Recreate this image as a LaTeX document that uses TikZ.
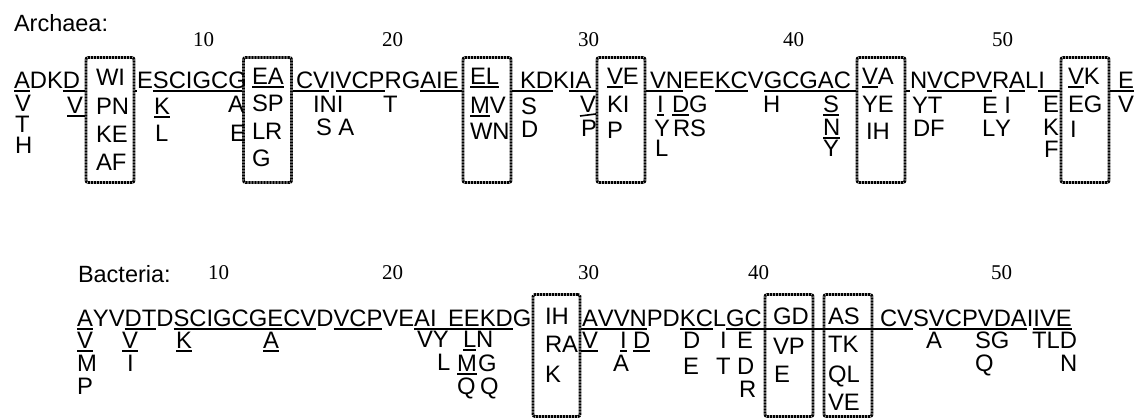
\documentclass[tikz,border=0pt]{standalone}
\usepackage{fontspec}
\newfontfamily\lettfont{Liberation Sans}[Kerning=Off]
\newfontfamily\numfont{Liberation Serif}
\newcommand\lett{\lettfont\fontsize{23.8pt}{24pt}\selectfont}
\newcommand\labsz{\lettfont\fontsize{23.5pt}{24pt}\selectfont}
\newcommand\numsz{\numfont\fontsize{21pt}{21pt}\selectfont}
\begin{document}
\begin{tikzpicture}[x=1pt,y=-1pt,
 t/.style={font=\lett, inner sep=0pt, outer sep=0pt, anchor=base west},
 lab/.style={font=\labsz, inner sep=0pt, outer sep=0pt, anchor=base west},
 nm/.style={font=\numsz, inner sep=0pt, outer sep=0pt, anchor=base west},
 ul/.style={draw, line width=1.6pt},
 u/.style={append after command={([yshift=-2pt]\tikzlastnode.base west) edge[ul] ([yshift=-2pt]\tikzlastnode.base east)}},
 box/.style={draw, line width=2.8pt, dash pattern=on 2.2pt off 0.8pt, rounded corners=2pt, inner sep=0pt, minimum width=48pt}]
\useasboundingbox (0,0) rectangle (1135,419);

% ================= ARCHAEA =================
\node[lab] (arch) at (14,32) {Archaea:};
\node[nm] (an10) at (193,47) {10};
\node[nm] (an20) at (382,47) {20};
\node[nm] (an30) at (578,47) {30};
\node[nm] (an40) at (783,47) {40};
\node[nm] (an50) at (992,47) {50};

% boxes
\node[box, minimum height=125pt] (bWI) at (110,120) {};
\node[box, minimum height=125pt] (bEA) at (267.5,120) {};
\node[box, minimum height=125pt] (bEL) at (487,120) {};
\node[box, minimum height=125pt] (bVE) at (621,120) {};
\node[box, minimum height=125pt] (bVA) at (881,120) {};
\node[box, minimum height=125pt] (bVK) at (1085,120) {};

% segment 1
\node[t,u] (a1) at (14,89) {A};
\node[t] (a2) at (a1.base east) {DK};
\node[t] (a3) at (a2.base east) {D};
\draw[ul] ([yshift=-2pt]a3.base west) -- ([yshift=-2pt]a3.base west -| bWI.west);
\node[t] (a1v) at (15,112) {V};
\node[t] (a1t) at (15,133) {T};
\node[t] (a1h) at (15,154) {H};
\node[t] (a3v) at (67,114) {V};
\draw[ul] ([yshift=-2pt]a3v.base west) -- ([yshift=-2pt]a3v.base west -| bWI.west);

% box WI
\node[t] (wi1) at (96,86) {WI};
\node[t] (wi2) at (96,115) {PN};
\node[t] (wi3) at (96,143) {KE};
\node[t] (wi4) at (96,171) {AF};

% segment 2
\node[t] (e1) at (137,89) {E};
\node[t] (e2) at (e1.base east) {SCIGCG};
\draw[ul] ([yshift=-2pt]e1.base west -| bWI.east) -- ([yshift=-2pt]e1.base west);
\draw[ul] ([yshift=-2pt]e2.base west) -- ([yshift=-2pt]e2.base west -| bEA.west);
\node[t,u] (e2k) at (154,115) {K};
\node[t] (e2l) at (155,142) {L};
\node[t] (e2a) at (228,113) {A};
\node[t] (e2e) at (230,142) {E};

% box EA
\node[t,u] (ea1) at (252,85) {EA};
\node[t] (ea2) at (252,112) {SP};
\node[t] (ea3) at (252,140) {LR};
\node[t] (ea4) at (252,167) {G};

% segment 3
\node[t] (f1) at (296,89) {CV};
\node[t] (f2) at (f1.base east) {I};
\node[t,u] (f3) at (f2.base east) {VCP};
\node[t] (f4) at (f3.base east) {RG};
\node[t] (f5) at (f4.base east) {AIE};
\draw[ul] ([yshift=-2pt]f1.base west -| bEA.east) -- ([yshift=-2pt]f1.base east);
\draw[ul] ([yshift=-2pt]f5.base west) -- ([yshift=-2pt]f5.base west -| bEL.west);
\node[t] (f1i) at (313,113) {INI};
\node[t] (f1s) at (316,136) {S A};
\node[t] (f4t) at (383,113) {T};

% box EL
\node[t,u] (el1) at (470,85) {EL};
\node[t,u] (el2) at (470,114) {M};
\node[t] (el2b) at (el2.base east) {V};
\node[t] (el3) at (470,140) {WN};

% segment 4
\node[t] (g1) at (520,89) {KD};
\node[t] (g2) at (g1.base east) {K};
\node[t] (g3) at (g2.base east) {IA};
\draw[ul] ([yshift=-2pt]g1.base west -| bEL.east) -- ([yshift=-2pt]g1.base east);
\draw[ul] ([yshift=-2pt]g3.base west) -- ([yshift=-2pt]g3.base west -| bVE.west);
\node[t] (g1s) at (521,115) {S};
\node[t] (g1d) at (521,138) {D};
\node[t] (g3v) at (580,113) {V};
\draw[ul] ([yshift=-3pt]g3v.base west) -- ([yshift=-1pt]g3v.base east);
\node[t] (g3p) at (581,137) {P};

% box VE
\node[t,u] (ve1) at (607,85) {V};
\node[t] (ve1b) at (ve1.base east) {E};
\node[t] (ve2) at (607,113) {KI};
\node[t] (ve3) at (607,139) {P};

% segment 5
\node[t] (h1) at (650,89) {VN};
\node[t] (h2) at (h1.base east) {EE};
\node[t,u] (h3) at (h2.base east) {KC};
\node[t] (h4) at (h3.base east) {V};
\node[t] (h5) at (h4.base east) {GCGAC};
\draw[ul] ([yshift=-2pt]h1.base west -| bVE.east) -- ([yshift=-2pt]h1.base east);
\draw[ul] ([yshift=-2pt]h5.base west) -- ([yshift=-2pt]h5.base west -| bVA.west);
\node[t,u] (h1i) at (657,113) {I};
\node[t] (h1y) at (654,137) {Y};
\node[t] (h1l) at (655,157) {L};
\node[t,u] (h1d) at (672,113) {D};
\node[t] (h1g) at (h1d.base east) {G};
\node[t] (h1r) at (673,137) {RS};
\node[t] (h5h) at (763,113) {H};
\node[t,u] (h5s) at (823,113) {S};
\node[t,u] (h5n) at (823,136) {N};
\node[t] (h5y) at (823,157) {Y};

% box VA
\node[t,u] (va1) at (862,85) {V};
\node[t] (va1b) at (va1.base east) {A};
\node[t] (va2) at (862,113) {YE};
\node[t] (va3) at (866,140) {IH};

% segment 6
\node[t] (i1) at (910,89) {N};
\node[t,u] (i2) at (i1.base east) {VCPV};
\node[t] (i3) at (i2.base east) {R};
\node[t,u] (i4) at (i3.base east) {A};
\node[t] (i5) at (i4.base east) {L};
\node[t] (i6) at (i5.base east) {I};
\draw[ul] ([yshift=-2pt]i1.base west -| bVA.east) -- ([yshift=-2pt]i1.base west);
\draw[ul] ([yshift=-2pt]i6.base west) -- ([yshift=-2pt]i6.base west -| bVK.west);
\node[t] (i1y) at (912,114) {YT};
\node[t] (i1d) at (913,137) {DF};
\node[t] (i2e) at (982,114) {E I};
\node[t] (i2l) at (982,137) {LY};
\node[t] (i6e) at (1043,113) {E};
\node[t] (i6k) at (1043,136) {K};
\node[t] (i6f) at (1044,158) {F};

% box VK
\node[t,u] (vk1) at (1068,85) {V};
\node[t] (vk1b) at (vk1.base east) {K};
\node[t] (vk2) at (1068,113) {EG};
\node[t] (vk3) at (1070,138) {I};

% segment 7
\node[t] (j1) at (1118,89) {E};
\draw[ul] ([yshift=-2pt]j1.base west -| bVK.east) -- ([yshift=-2pt]j1.base east);
\node[t] (j1v) at (1118,113) {V};

% ================= BACTERIA =================
\node[lab] (bact) at (78,283) {Bacteria:};
\node[nm] (bn10) at (208,280) {10};
\node[nm] (bn20) at (382,280) {20};
\node[nm] (bn30) at (578,280) {30};
\node[nm] (bn40) at (748,280) {40};
\node[nm] (bn50) at (991,280) {50};

\node[box, minimum width=47pt, minimum height=122pt] (bIH) at (556.5,355.5) {};
\node[box, minimum height=122pt] (bGD) at (789,355.5) {};
\node[box, minimum height=122pt] (bAS) at (848,355.5) {};

% segment 1
\node[t,u] (k1) at (77,327) {A};
\node[t] (k2) at (k1.base east) {YV};
\node[t,u] (k3) at (k2.base east) {DT};
\node[t] (k4) at (k3.base east) {D};
\node[t,u] (k5) at (k4.base east) {SCIGCGECV};
\node[t] (k6) at (k5.base east) {D};
\node[t,u] (k7) at (k6.base east) {VCP};
\node[t] (k8) at (k7.base east) {VE};
\node[t] (k9) at (k8.base east) {AI};
\node[t] (k10) at (448,327) {EEKD};
\node[t] (k11) at (k10.base east) {G};
\draw[ul] ([yshift=-2pt]k9.base west) -- ([yshift=-2pt]k10.base east);
\node[t,u] (k1v) at (77,349) {V};
\node[t] (k1m) at (77,372) {M};
\node[t] (k1p) at (77,395) {P};
\node[t,u] (k3v) at (122,349) {V};
\node[t] (k3i) at (127,372) {I};
\node[t,u] (k5k) at (176,349) {K};
\node[t,u] (k5a) at (263,349) {A};
\node[t] (k9v) at (417,348) {VY};
\node[t] (k9l) at (437,371) {L};
\node[t,u] (k10l) at (463,348) {L};
\node[t] (k10n) at (k10l.base east) {N};
\node[t,u] (k10m) at (457,372) {M};
\node[t] (k10g) at (478,372) {G};
\node[t] (k10q) at (457,395) {Q};
\node[t] (k10r) at (480,395) {Q};

% box IH
\node[t] (ih1) at (545,325) {IH};
\node[t] (ih2) at (545,353) {RA};
\node[t] (ih3) at (545,382) {K};

% segment 2
\node[t] (m1) at (582,327) {AVVN};
\node[t] (m2) at (m1.base east) {PD};
\node[t,u] (m3) at (m2.base east) {KC};
\node[t] (m4) at (m3.base east) {L};
\node[t] (m5) at (m4.base east) {GC};
\draw[ul] ([yshift=-2pt]m1.base west -| bIH.east) -- ([yshift=-2pt]m1.base east);
\node[t] (m1v) at (582,349) {V};
\draw[ul] ([yshift=-2pt]m1v.base west -| bIH.east) -- ([yshift=-2pt]m1v.base east);
\node[t,u] (m1i) at (620,349) {I};
\node[t,u] (m1d) at (633,349) {D};
\node[t] (m1a) at (613,372) {A};
\node[t] (m3d) at (683,349) {D};
\node[t] (m3e) at (683,374) {E};
\node[t] (m4i) at (720,349) {I};
\node[t] (m4t) at (716,374) {T};
\node[t] (m5e) at (737,349) {E};
\node[t] (m5d) at (737,374) {D};
\node[t] (m5r) at (739,397) {R};

% box GD
\node[t] (gd1) at (773,325) {GD};
\node[t] (gd2) at (773,355) {VP};
\node[t] (gd3) at (774,383) {E};

% box AS
\node[t] (as1) at (828,325) {AS};
\node[t] (as2) at (828,353) {TK};
\node[t] (as3) at (828,382) {QL};
\node[t] (as4) at (828,410) {VE};

% segment 3
\node[t] (n1) at (880,327) {CV};
\node[t] (n2) at (n1.base east) {S};
\node[t,u] (n3) at (n2.base east) {VCPVD};
\node[t,u] (n4) at (n3.base east) {A};
\node[t] (n5) at (n4.base east) {I};
\node[t,u] (n6) at (n5.base east) {IVE};
\draw[ul] ([yshift=-2pt]m5.base west) -- ([yshift=-2pt]n1.base east);
\node[t] (n3a) at (926,349) {A};
\node[t] (n3s) at (975,349) {SG};
\node[t] (n3q) at (975,372) {Q};
\node[t] (n6t) at (1032,349) {TLD};
\node[t] (n6n) at (1060,372) {N};
\end{tikzpicture}
\end{document}
